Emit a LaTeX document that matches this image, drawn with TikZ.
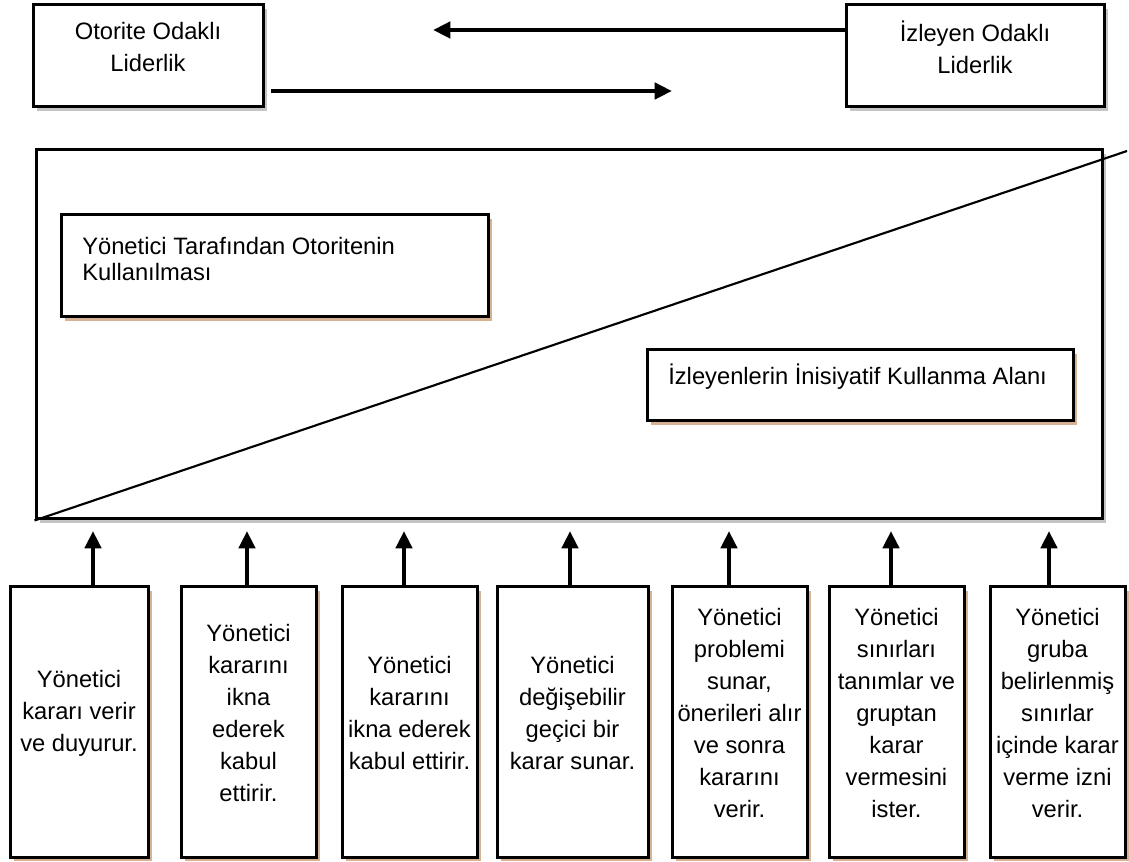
\documentclass[tikz,border=0pt]{standalone}
\usepackage{fontspec}
\setmainfont{Liberation Sans}
\usetikzlibrary{arrows.meta,shadows,fit}
\definecolor{shadowgray}{RGB}{196,196,196}
\definecolor{shadowtan}{RGB}{214,178,146}

\begin{document}
\begin{tikzpicture}[x=0.75pt,y=-0.75pt,
  frame/.style={draw=black, line width=2.25pt, fill=white, inner sep=0pt},
  grayshadow/.style={general shadow={fill=shadowgray, shadow xshift=3pt, shadow yshift=-3pt}},
  tanshadow/.style={general shadow={fill=shadowtan, shadow xshift=3pt, shadow yshift=-3pt}},
  lbl/.style={font=\fontsize{17.8}{24}\selectfont, align=center, inner sep=0pt},
  arr/.style={line width=3.4pt, -{Triangle[length=13pt,width=12pt]}},
]
\path[use as bounding box] (0,0) rectangle (1129,862);

% leadership poles
\node[frame, grayshadow, fit={(33,5) (263,107)}] (ol) {};
\node[lbl] (olt) at ([yshift=6.75pt]ol.center) {Otorite Odaklı\\Liderlik};
\node[frame, grayshadow, fit={(846,5) (1104,107)}] (il) {};
\node[lbl] (ilt) at ([yshift=6.75pt]il.center) {İzleyen Odaklı\\Liderlik};

\coordinate (lefttip) at (433,30);
\coordinate (righttip) at (672,91);
\draw[arr] (il.west |- lefttip) -- (lefttip);
\draw[arr, shorten <=5pt] (ol.east |- righttip) -- (righttip);

% area split by the diagonal
\node[frame, grayshadow, fit={(36,150) (1102,519)}] (area) {};
\coordinate (diagend) at (1127,151);
\draw[line width=1.6pt] (area.south west) -- (diagend);

\node[frame, tanshadow, fit={(61,215) (488,317)}] (auth) {};
\node[lbl, align=left, font=\fontsize{17.8}{19.5}\selectfont, anchor=west] (autht) at (82,259)
  {Yönetici Tarafından Otoritenin\\Kullanılması};
\node[frame, tanshadow, fit={(647,350) (1073,421)}] (foll) {};
\node[lbl, anchor=base west] (follt) at (668,385) {İzleyenlerin İnisiyatif Kullanma Alanı};

% behaviour boxes
\node[frame, tanshadow, fit={(10,587) (148,857)}] (b1) {};
\node[lbl] (t1) at ([yshift=6.75pt]b1.center) {Yönetici\\kararı verir\\ve duyurur.};
\node[frame, tanshadow, fit={(181,587) (316,857)}] (b2) {};
\node[lbl] (t2) at ([yshift=6.75pt]b2.center) {Yönetici\\kararını\\ikna\\ederek\\kabul\\ettirir.};
\node[frame, tanshadow, fit={(342,587) (477,857)}] (b3) {};
\node[lbl] (t3) at ([yshift=6.75pt]b3.center) {Yönetici\\kararını\\ikna ederek\\kabul ettirir.};
\node[frame, tanshadow, fit={(497,587) (648,857)}] (b4) {};
\node[lbl] (t4) at ([yshift=6.75pt]b4.center) {Yönetici\\değişebilir\\geçici bir\\karar sunar.};
\node[frame, tanshadow, fit={(672,587) (807,857)}] (b5) {};
\node[lbl] (t5) at ([yshift=6.75pt]b5.center) {Yönetici\\problemi\\sunar,\\önerileri alır\\ve sonra\\kararını\\verir.};
\node[frame, tanshadow, fit={(829,587) (964,857)}] (b6) {};
\node[lbl] (t6) at ([yshift=6.75pt]b6.center) {Yönetici\\sınırları\\tanımlar ve\\gruptan\\karar\\vermesini\\ister.};
\node[frame, tanshadow, fit={(990,587) (1125,857)}] (b7) {};
\node[lbl] (t7) at ([yshift=6.75pt]b7.center) {Yönetici\\gruba\\belirlenmiş\\sınırlar\\içinde karar\\verme izni\\verir.};

% arrows from each behaviour up to the area
\coordinate (p1) at (93,531);
\coordinate (p2) at (247,531);
\coordinate (p3) at (404,531);
\coordinate (p4) at (570,531);
\coordinate (p5) at (729,531);
\coordinate (p6) at (891,531);
\coordinate (p7) at (1049,531);
\foreach \i in {1,...,7} {
  \draw[arr] (b\i.north -| p\i) -- (p\i);
}
\end{tikzpicture}
\end{document}
